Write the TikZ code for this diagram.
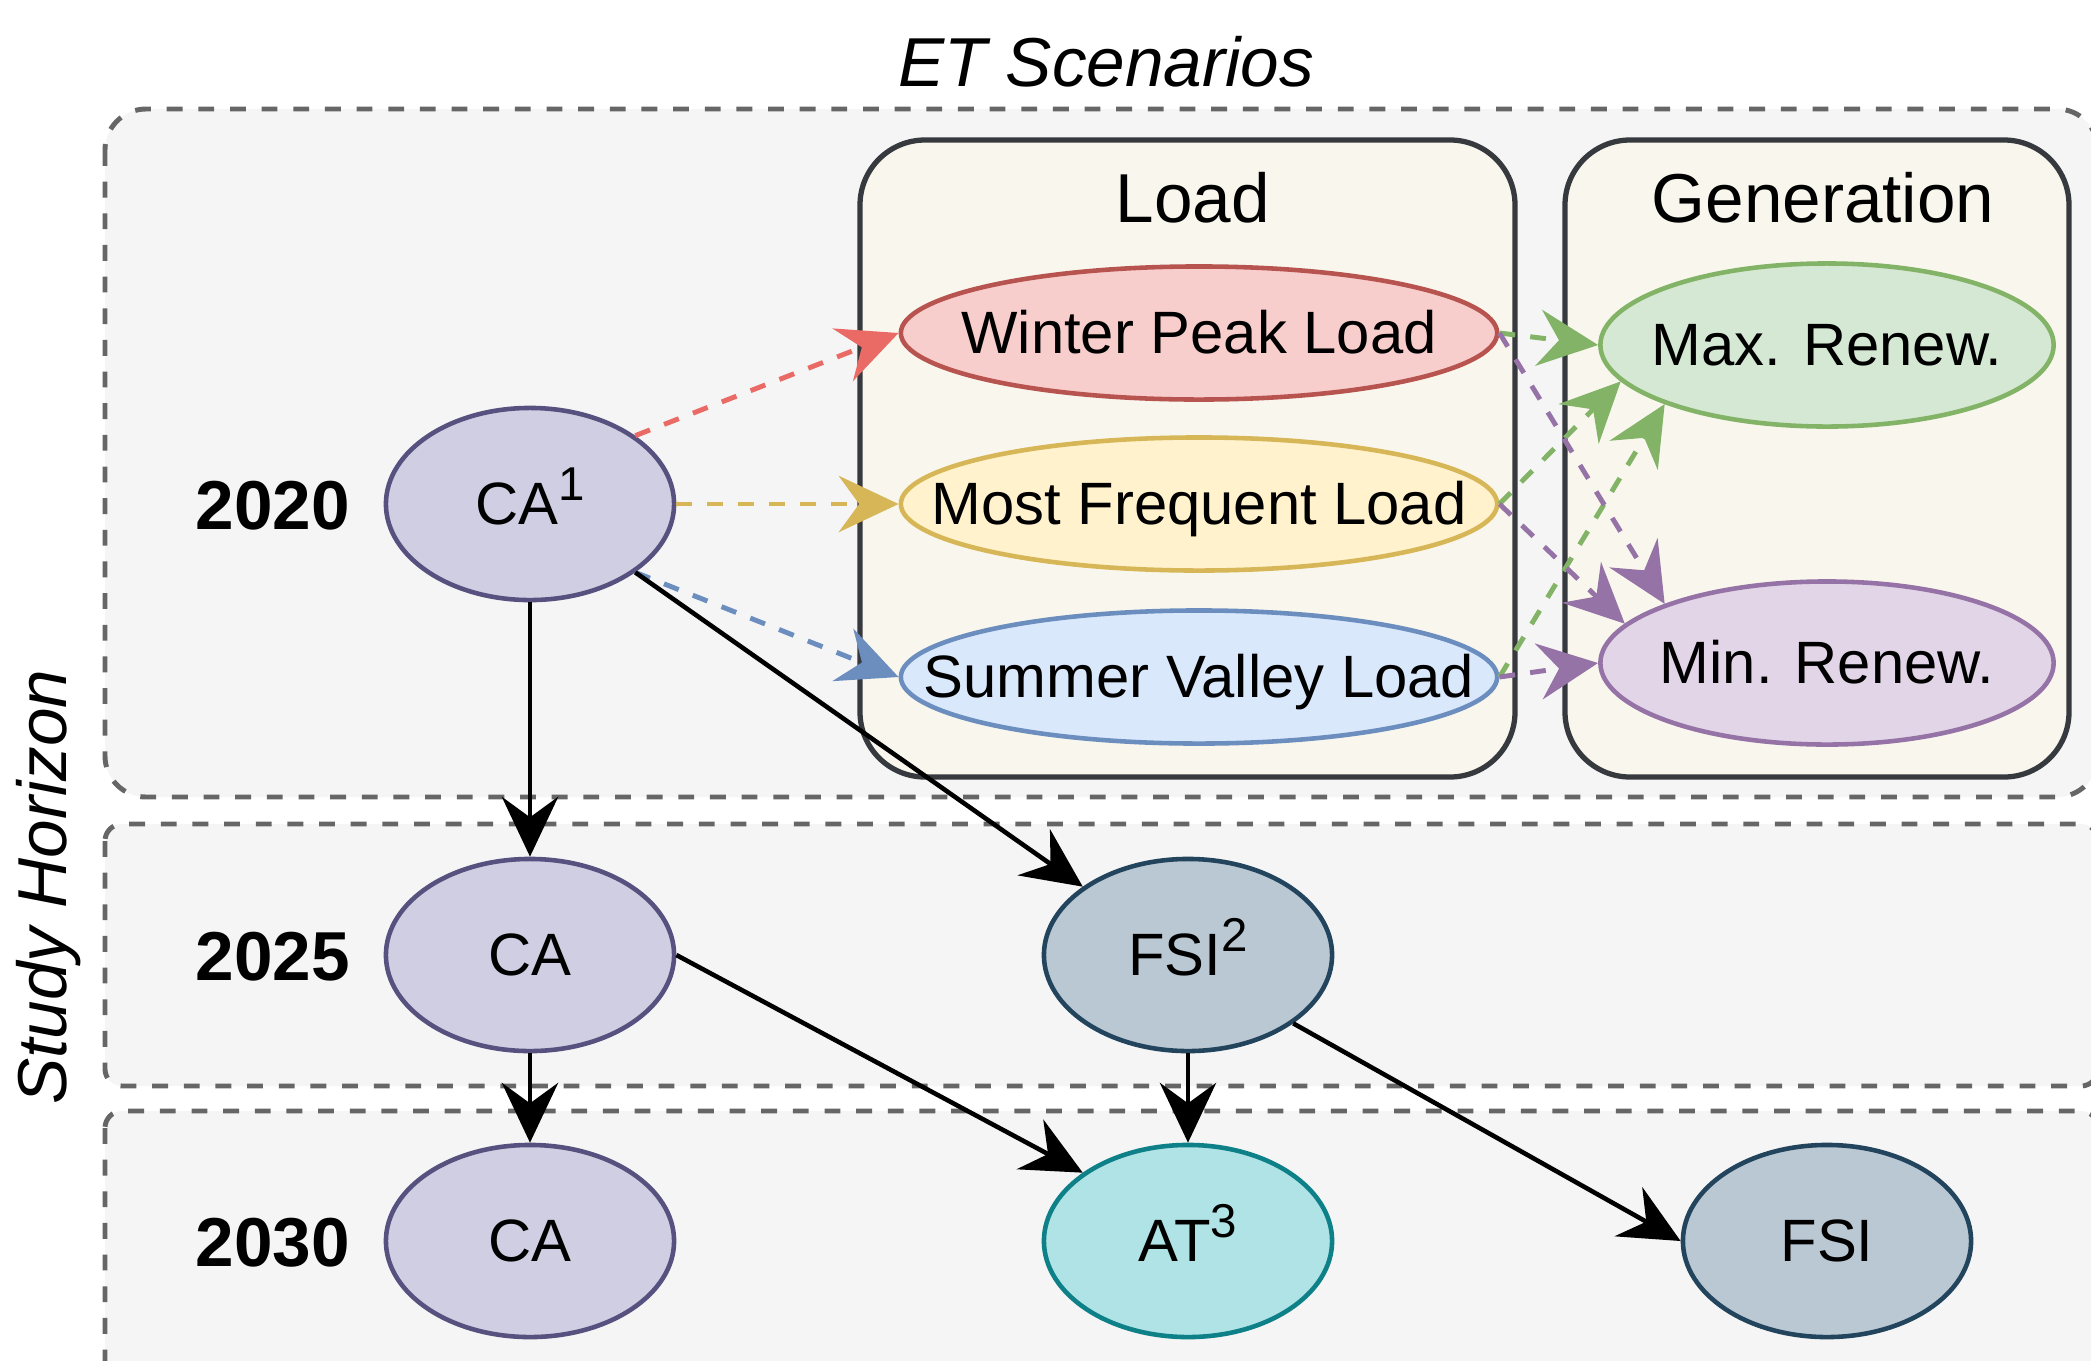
\documentclass[tikz,border=0pt]{standalone}
\usepackage{fontspec}
\setmainfont{Liberation Sans}
\usetikzlibrary{arrows.meta,shapes.geometric}

\definecolor{boxfill}{HTML}{F5F5F5}
\definecolor{boxline}{HTML}{666666}
\definecolor{grpfill}{HTML}{F9F7ED}
\definecolor{grpline}{HTML}{36393D}
\definecolor{cafill}{HTML}{D0CEE2}  \definecolor{caline}{HTML}{56517E}
\definecolor{fsifill}{HTML}{BAC8D3} \definecolor{fsiline}{HTML}{23445D}
\definecolor{atfill}{HTML}{B0E3E6}  \definecolor{atline}{HTML}{0E8088}
\definecolor{redfill}{HTML}{F8CECC} \definecolor{redline}{HTML}{B85450}
\definecolor{yelfill}{HTML}{FFF2CC} \definecolor{yelline}{HTML}{D6B656}
\definecolor{blufill}{HTML}{DAE8FC} \definecolor{bluline}{HTML}{6C8EBF}
\definecolor{grnfill}{HTML}{D5E8D4} \definecolor{grnline}{HTML}{82B366}
\definecolor{purfill}{HTML}{E1D5E7} \definecolor{purline}{HTML}{9673A6}
\definecolor{redarrow}{HTML}{EA6B66}

% raised index on a node label
\newcommand\upidx[1]{\raisebox{7pt}{\fontsize{13.5}{15}\selectfont #1}}
% label centred over a zero-width box so the oval keeps its given size
\newcommand\ovaltext[1]{\makebox[0pt]{#1}}

\tikzset{
  horizon/.style={draw=boxline, fill=boxfill, line width=1.4pt, dash pattern=on 4.5pt off 4.5pt},
  group/.style={draw=grpline, fill=grpfill, line width=1.5pt, rounded corners=0.65cm},
  oval/.style={ellipse, line width=1.3pt, inner sep=0pt,
    font=\fontsize{17}{20}\selectfont, text height=15.4pt, text depth=3.6pt},
  smalloval/.style={oval, minimum width=2.88cm, minimum height=1.92cm},
  scenoval/.style={oval, minimum width=5.96cm, minimum height=1.33cm},
  genoval/.style={oval, minimum width=4.53cm, minimum height=1.63cm},
  flow/.style={line width=1.3pt, -{Stealth[length=17pt,width=16pt,inset=5.8pt]}},
  link/.style={flow, line width=1.4pt, dash pattern=on 4.5pt off 4.3pt},
  heading/.style={font=\fontsize{19.7}{23}\selectfont, inner sep=0pt, anchor=base},
  yearlabel/.style={font=\fontsize{19.7}{23}\selectfont\bfseries, inner sep=0pt, anchor=base},
}

\begin{document}
\begin{tikzpicture}[x=0.01cm, y=-0.01cm]
  \useasboundingbox (0,0) rectangle (2091,1360);
  \fill[white] (0,0) rectangle (2091,1360);
  \clip (0,0) rectangle (2091,1360);

  % study horizon bands
  \draw[horizon, rounded corners=0.41cm] (105,109) rectangle (2098,797);
  \draw[horizon, rounded corners=0.17cm] (105,824) rectangle (2098,1086);
  \draw[horizon, rounded corners=0.17cm] (105,1111) rectangle (2098,1420);

  % scenario groups
  \draw[group] (860,140) rectangle (1515,777);
  \draw[group] (1565,140) rectangle (2069,777);
  \node[heading] (loadtitle) at (1193,222) {Load};
  \node[heading] (gentitle) at (1823,222) {Generation};

  % headings and year labels
  \node[heading, font=\fontsize{19.7}{23}\selectfont\itshape] (ettitle) at (1106,86) {ET Scenarios};
  \node[heading, font=\fontsize{19.7}{23}\selectfont\itshape, rotate=90] (horizontitle) at (67,887) {Study Horizon};
  \node[yearlabel] (y2020) at (273,529) {2020};
  \node[yearlabel] (y2025) at (273,980) {2025};
  \node[yearlabel] (y2030) at (273,1266) {2030};

  % model nodes
  \node[smalloval, draw=caline, fill=cafill] (ca1) at (530,504) {\ovaltext{CA\upidx{1}}};
  \node[smalloval, draw=caline, fill=cafill] (ca2) at (530,955) {\ovaltext{CA}};
  \node[smalloval, draw=caline, fill=cafill] (ca3) at (530,1241) {\ovaltext{CA}};
  \node[smalloval, draw=fsiline, fill=fsifill] (fsi2) at (1188,955) {\ovaltext{FSI\upidx{2}}};
  \node[smalloval, draw=atline, fill=atfill] (at3) at (1188,1241) {\ovaltext{AT\upidx{3}}};
  \node[smalloval, draw=fsiline, fill=fsifill] (fsi3) at (1827,1241) {\ovaltext{FSI}};

  % load scenarios
  \node[scenoval, draw=redline, fill=redfill] (winter) at (1199,333) {\ovaltext{Winter Peak Load}};
  \node[scenoval, draw=yelline, fill=yelfill] (mfl) at (1199,504) {\ovaltext{Most Frequent Load}};
  \node[scenoval, draw=bluline, fill=blufill] (svl) at (1199,677) {\ovaltext{Summer Valley Load}};

  % generation scenarios
  \node[genoval, draw=grnline, fill=grnfill] (maxr) at (1827,345) {\ovaltext{Max. Renew.}};
  \node[genoval, draw=purline, fill=purfill] (minr) at (1827,663) {\ovaltext{Min. Renew.}};

  % scenario links
  \draw[link, redarrow] (ca1.33) -- (winter.west);
  \draw[link, yelline] (ca1.east) -- (mfl.west);
  \draw[link, bluline] (ca1.-33) -- (svl.west);

  \draw[link, grnline] (winter.east) -- (maxr.west);
  \draw[link, grnline] (mfl.east) -- (maxr.190);
  \draw[link, grnline] (svl.east) -- (maxr.200.6);
  \draw[link, purline] (winter.east) -- (minr.160.3);
  \draw[link, purline] (mfl.east) -- (minr.169.3);
  \draw[link, purline] (svl.east) -- (minr.west);

  % planning transitions
  \draw[flow] (ca1.-33) -- (fsi2.147);
  \draw[flow] (ca1.south) -- (ca2.north);
  \draw[flow] (ca2.south) -- (ca3.north);
  \draw[flow] (ca2.east) -- (at3.147);
  \draw[flow] (fsi2.south) -- (at3.north);
  \draw[flow] (fsi2.-33) -- (fsi3.west);
\end{tikzpicture}
\end{document}
